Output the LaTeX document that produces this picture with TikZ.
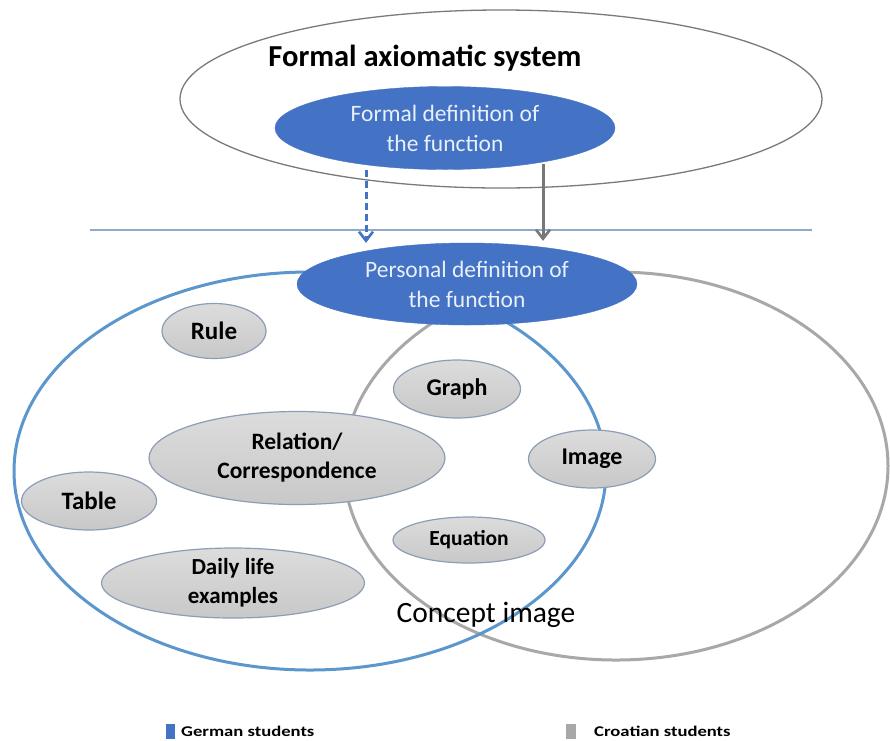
\documentclass[tikz,border=0pt]{standalone}
\usepackage{fontspec}
\usepackage{graphicx}
\setmainfont{Carlito}
\usetikzlibrary{shapes.geometric,arrows.meta}
\definecolor{offblue}{HTML}{4472C4}
\definecolor{ringblue}{HTML}{5B96CC}
\definecolor{ringgray}{HTML}{A8A8A8}
\definecolor{sepline}{HTML}{8EA9CC}
\definecolor{topring}{HTML}{7A7A7A}
\definecolor{bubbleedge}{HTML}{8D9DB6}
\definecolor{bubbletop}{HTML}{DCDCDC}
\definecolor{bubblebot}{HTML}{C8C8C8}
\definecolor{arrowgray}{HTML}{777777}
\definecolor{paletext}{HTML}{E8F0FA}
\tikzset{
  bluebox/.style={ellipse, fill=offblue, draw=offblue, inner sep=0pt, text=paletext,
    align=center, font=\fontsize{23.5}{30}\selectfont},
  bubble/.style={ellipse, top color=bubbletop, bottom color=bubblebot, draw=bubbleedge,
    line width=1.2pt, inner sep=0pt, align=center, font=\fontsize{24}{29}\selectfont\bfseries},
  ring/.style={ellipse, inner sep=0pt, line width=3pt},
  barb/.style={-{Straight Barb[length=9pt,width=14pt,line width=2.6pt]}, line width=3pt},
}
\begin{document}
\begin{tikzpicture}[x=1pt,y=-1pt]
\useasboundingbox[fill=white] (0,0) rectangle (890,740);
% separator line
\coordinate (sepL) at (90,230);
\coordinate (sepR) at (812,230);
\draw[sepline, line width=1.6pt] (sepL) -- (sepR);
% formal axiomatic system
\node[ellipse, draw=topring, line width=1.3pt, minimum width=642, minimum height=178, inner sep=0pt] (fas) at (501,99) {};
\node[font=\fontsize{30.5}{36}\selectfont\bfseries] (fastext) at (425,58) {Formal axiomatic system};
\node[bluebox, minimum width=340, minimum height=83] (formal) at (445,128) {Formal definition of\\the function};
% big rings
\node[ring, draw=ringgray, minimum width=544, minimum height=388] (croatian) at (616,466) {};
\node[ring, draw=ringblue, minimum width=592, minimum height=398] (german) at (310,471) {};
% bubbles
\node[bubble, minimum width=104, minimum height=55, font=\fontsize{25}{29}\selectfont\bfseries] (rule) at (214,331) {Rule};
\node[bubble, minimum width=127, minimum height=58] (graph) at (457,389) {Graph};
\node[bubble, minimum width=296, minimum height=93, font=\fontsize{23.5}{29}\selectfont\bfseries] (relation) at (297,458) {Relation/\\Correspondence};
\node[bubble, minimum width=135, minimum height=58, font=\fontsize{25}{29}\selectfont\bfseries] (table) at (89,501) {Table};
\node[bubble, minimum width=127, minimum height=58] (image) at (592,459) {Image};
\node[bubble, minimum width=152, minimum height=46, font=\fontsize{21.5}{25}\selectfont\bfseries] (equation) at (469,540) {Equation};
\node[bubble, minimum width=263, minimum height=70, font=\fontsize{23}{29}\selectfont\bfseries] (daily) at (233,583) {Daily life\\examples};
% personal definition
\node[bluebox, minimum width=340, minimum height=82] (personal) at (467,284) {Personal definition of\\the function};
% arrows
\draw[barb, dash pattern=on 7pt off 4pt, offblue] ([xshift=-79pt]formal.south) -- ([xshift=-101pt]personal.north);
\draw[barb, arrowgray] ([xshift=98pt,yshift=6pt]formal.south) -- ([xshift=76pt,yshift=2pt]personal.north);
% concept image label
\node[font=\fontsize{29.5}{34}\selectfont] (concept) at (486,615) {Concept image};
% legend
\node[fill=offblue, inner sep=0pt, minimum width=9, minimum height=15] (gkey) at (170,731) {};
\node[anchor=west, inner sep=0pt] (gtext) at (181,731) {\scalebox{1.38}[1.1]{\fontsize{13.5}{15}\selectfont\bfseries German students}};
\node[fill=ringgray, inner sep=0pt, minimum width=10, minimum height=15] (ckey) at (571,731) {};
\node[anchor=west, inner sep=0pt] (ctext) at (594,731) {\scalebox{1.38}[1.1]{\fontsize{13.5}{15}\selectfont\bfseries Croatian students}};
\end{tikzpicture}
\end{document}
